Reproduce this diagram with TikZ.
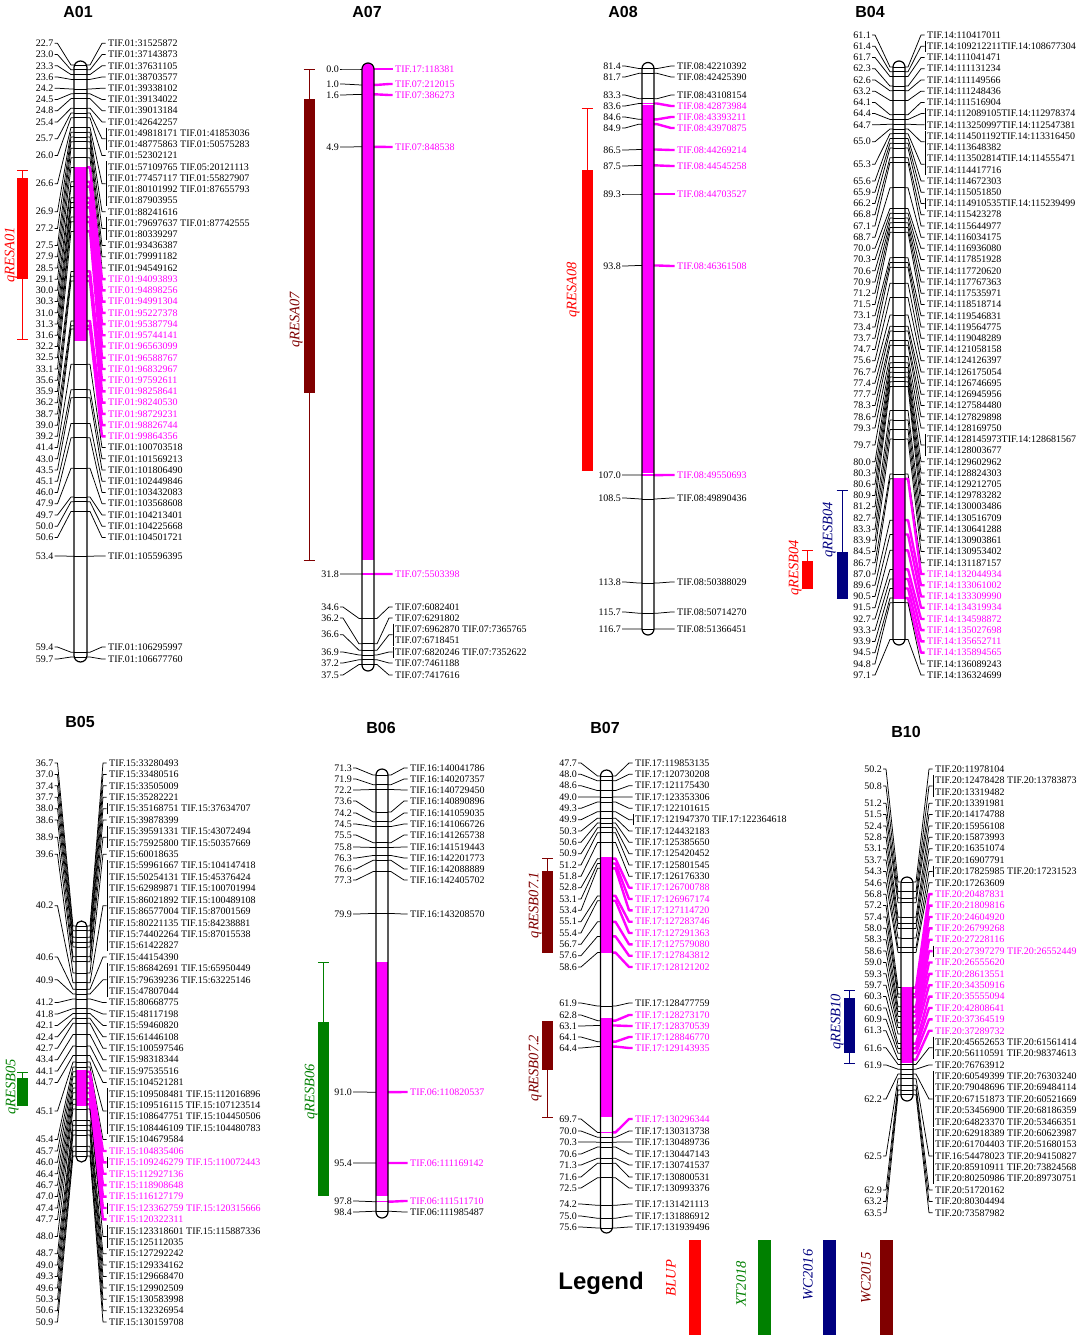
\documentclass[tikz,border=0pt]{standalone}
\usepackage{fontspec}
\setmainfont{Liberation Serif}
\newfontfamily\sansfam{Liberation Sans}
\definecolor{mag}{RGB}{255,0,255}
\definecolor{qred}{RGB}{255,0,0}
\definecolor{qgreen}{RGB}{0,128,0}
\definecolor{qnavy}{RGB}{0,0,128}
\definecolor{qmaroon}{RGB}{128,0,0}
\tikzset{
  conn-black/.style={draw=black,line width=0.75pt,line join=round},
  conn-mag/.style={draw=mag,line width=2.4pt,line join=round},
  mk-black/.style={draw=black,line width=0.75pt},
  mk-mag/.style={draw=mag,line width=1.5pt},
  lbl/.style={inner sep=0pt,font=\fontsize{10}{12}\selectfont},
  ttl/.style={font=\sansfam\bfseries\fontsize{16}{16}\selectfont},
  qlab/.style={font=\itshape\fontsize{14.5}{14.5}\selectfont,rotate=90,inner sep=0pt},
  barline/.style={line width=1.2pt},
}
\newcommand\setbar[4]{\def\Cbx{#1}\def\Cbw{#2}\def\Ctop{#3}\def\Cbot{#4}}
\newcommand\setmap[3]{\def\Cya{#1}\def\Ccma{#2}\def\Cys{#3}}
\newcommand\setlab[5]{\def\Clx{#1}\def\Crx{#2}\def\Cyo{#3}\def\Csp{#4}\def\Clsp{#5}}
\newcommand\chrom[3]{%
  \fill[white,rounded corners=\Cbw pt] (\Cbx-\Cbw,\Ctop) rectangle (\Cbx+\Cbw,\Cbot);
  \foreach \cm/\rr/\nn/\br/\col/\txt [count=\i] in {#3}{%
    \pgfmathsetmacro\ty{\Cya+\Cys*(\cm-\Ccma)}%
    \pgfmathsetmacro\fy{\Cyo+\Csp*\rr}%
    \pgfmathsetmacro\cy{\fy+(\nn-1)/2*\Clsp}%
    \pgfmathsetmacro\ly{\fy+(\nn-1)*\Clsp}%
    \pgfmathtruncatemacro\hasbr{max(\nn-1,\br)}%
    \draw[mk-\col] (\Cbx-\Cbw,\ty) -- (\Cbx+\Cbw,\ty);
    \node[lbl,anchor=east] (#1-n\i) at (\Clx,\cy) {\cm};
    \node[lbl,anchor=west,align=left,text=\col,font=\fontsize{10}{\Clsp}\selectfont] (#1-t\i) at (\Crx,\cy) {\txt};
    \draw[conn-black] ([xshift=1pt]#1-n\i.east) -- ++(3,0) -- (\Cbx-\Cbw-3,\ty) -- (\Cbx-\Cbw,\ty);
    \draw[conn-\col] (\Cbx+\Cbw,\ty) -- ++(3,0) -- ([xshift=-6pt]#1-t\i.west) -- ([xshift=-2.5pt]#1-t\i.west);
    \ifnum\hasbr>0 \draw[conn-black] (\Crx-2,\fy-5.5) -- (\Crx-2,\ly+5.5);\fi
  }
  \begin{scope}
    \clip[rounded corners=\Cbw pt] (\Cbx-\Cbw,\Ctop) rectangle (\Cbx+\Cbw,\Cbot);
    \foreach \ma/\mb in {#2} {\fill[mag] (\Cbx-\Cbw,\ma) rectangle (\Cbx+\Cbw,\mb);}
  \end{scope}
  \draw[barline,rounded corners=\Cbw pt] (\Cbx-\Cbw,\Ctop) rectangle (\Cbx+\Cbw,\Cbot);
}
\newcommand\qtl[9]{%
  \draw[#1,line width=1pt] (#2,#3) -- (#2,#4) (#2-5.5,#3) -- (#2+5.5,#3) (#2-5.5,#4) -- (#2+5.5,#4);
  \fill[#1] (#2-5.5,#5) rectangle (#2+5.5,#6);
  \node[qlab,text=#1] at (#7,#8) {#9};
}
\begin{document}
\begin{tikzpicture}[x=1pt,y=-1pt]
\useasboundingbox (0,0) rectangle (1080,1339);
\fill[white] (0,0) rectangle (1080,1339);
% titles
\node[ttl] (tA01) at (78,12) {A01};
\node[ttl] (tA07) at (367,12) {A07};
\node[ttl] (tA08) at (623,12) {A08};
\node[ttl] (tB04) at (870,12) {B04};
\node[ttl] (tB05) at (80,722) {B05};
\node[ttl] (tB06) at (381,728) {B06};
\node[ttl] (tB07) at (605,728) {B07};
\node[ttl] (tB10) at (906,732) {B10};

% ---------------- A01
\setbar{80.5}{6.5}{61}{662}\setmap{65}{22.7}{16}\setlab{53.5}{108}{43.3}{11.23}{11.23}
\chrom{A01}{168/341}{
22.7/0/1/0/black/TIF.01:31525872,
23.0/1/1/0/black/TIF.01:37143873,
23.3/2/1/0/black/TIF.01:37631105,
23.6/3/1/0/black/TIF.01:38703577,
24.2/4/1/0/black/TIF.01:39338102,
24.5/5/1/0/black/TIF.01:39134022,
24.8/6/1/0/black/TIF.01:39013184,
25.4/7/1/0/black/TIF.01:42642257,
25.7/8/2/0/black/{TIF.01:49818171 TIF.01:41853036\\TIF.01:48775863 TIF.01:50575283},
26.0/10/1/0/black/TIF.01:52302121,
26.6/11/4/0/black/{TIF.01:57109765 TIF.05:20121113\\TIF.01:77457117 TIF.01:55827907\\TIF.01:80101992 TIF.01:87655793\\TIF.01:87903955},
26.9/15/1/0/black/TIF.01:88241616,
27.2/16/2/0/black/{TIF.01:79697637 TIF.01:87742555\\TIF.01:80339297},
27.5/18/1/0/black/TIF.01:93436387,
27.9/19/1/0/black/TIF.01:79991182,
28.5/20/1/0/black/TIF.01:94549162,
29.1/21/1/0/mag/TIF.01:94093893,
30.0/22/1/0/mag/TIF.01:94898256,
30.3/23/1/0/mag/TIF.01:94991304,
31.0/24/1/0/mag/TIF.01:95227378,
31.3/25/1/0/mag/TIF.01:95387794,
31.6/26/1/0/mag/TIF.01:95744141,
32.2/27/1/0/mag/TIF.01:96563099,
32.5/28/1/0/mag/TIF.01:96588767,
33.1/29/1/0/mag/TIF.01:96832967,
35.6/30/1/0/mag/TIF.01:97592611,
35.9/31/1/0/mag/TIF.01:98258641,
36.2/32/1/0/mag/TIF.01:98240530,
38.7/33/1/0/mag/TIF.01:98729231,
39.0/34/1/0/mag/TIF.01:98826744,
39.2/35/1/0/mag/TIF.01:99864356,
41.4/36/1/0/black/TIF.01:100703518,
43.0/37/1/0/black/TIF.01:101569213,
43.5/38/1/0/black/TIF.01:101806490,
45.1/39/1/0/black/TIF.01:102449846,
46.0/40/1/0/black/TIF.01:103432083,
47.9/41/1/0/black/TIF.01:103568608,
49.7/42/1/0/black/TIF.01:104213401,
50.0/43/1/0/black/TIF.01:104225668,
50.6/44/1/0/black/TIF.01:104501721,
53.4/45.65/1/0/black/TIF.01:105596395,
59.4/53.76/1/0/black/TIF.01:106295997,
59.7/54.83/1/0/black/TIF.01:106677760}

% ---------------- A07
\setbar{368}{6}{63}{671}\setmap{69}{0}{15.88}\setlab{339}{395}{0}{1}{11.3}
\chrom{A07}{63/560}{
0.0/69/1/0/mag/TIF.17:118381,
1.0/84/1/0/mag/TIF.07:212015,
1.6/95/1/0/mag/TIF.07:386273,
4.9/147/1/0/mag/TIF.07:848538,
31.8/574/1/0/mag/TIF.07:5503398,
34.6/607/1/0/black/TIF.07:6082401,
36.2/618/1/0/black/TIF.07:6291802,
36.6/629/2/0/black/{TIF.07:6962870 TIF.07:7365765\\TIF.07:6718451},
36.9/652/1/1/black/TIF.07:6820246 TIF.07:7352622,
37.2/663/1/0/black/TIF.07:7461188,
37.5/675/1/0/black/TIF.07:7417616}

% ---------------- A08
\setbar{648}{6}{62.5}{635}\setmap{194}{89.3}{15.88}\setlab{621}{677}{0}{1}{11.3}
\chrom{A08}{105/473}{
81.4/66/1/0/black/TIF.08:42210392,
81.7/77/1/0/black/TIF.08:42425390,
83.3/95/1/0/black/TIF.08:43108154,
83.6/106/1/0/mag/TIF.08:42873984,
84.6/117/1/0/mag/TIF.08:43393211,
84.9/128/1/0/mag/TIF.08:43970875,
86.5/150/1/0/mag/TIF.08:44269214,
87.5/166/1/0/mag/TIF.08:44545258,
89.3/194/1/0/mag/TIF.08:44703527,
93.8/266/1/0/mag/TIF.08:46361508,
107.0/475/1/0/mag/TIF.08:49550693,
108.5/498/1/0/black/TIF.08:49890436,
113.8/582/1/0/black/TIF.08:50388029,
115.7/612/1/0/black/TIF.08:50714270,
116.7/629/1/0/black/TIF.08:51366451}

% ---------------- B04
\setbar{899}{6}{61}{645}\setmap{67}{61.1}{15.9}\setlab{871}{927}{35}{11.23}{11.23}
\chrom{B04}{478/598}{
61.1/0/1/0/black/TIF.14:110417011,
61.4/1/1/1/black/TIF.14:109212211TIF.14:108677304,
61.7/2/1/0/black/TIF.14:111041471,
62.3/3/1/0/black/TIF.14:111131234,
62.6/4/1/0/black/TIF.14:111149566,
63.2/5/1/0/black/TIF.14:111248436,
64.1/6/1/0/black/TIF.14:111516904,
64.4/7/1/1/black/TIF.14:112089105TIF.14:112978374,
64.7/8/1/1/black/TIF.14:113250997TIF.14:112547381,
65.0/9/2/0/black/{TIF.14:114501192TIF.14:113316450\\TIF.14:113648382},
65.3/11/2/0/black/{TIF.14:113502814TIF.14:114555471\\TIF.14:114417716},
65.6/13/1/0/black/TIF.14:114672303,
65.9/14/1/0/black/TIF.14:115051850,
66.2/15/1/1/black/TIF.14:114910535TIF.14:115239499,
66.8/16/1/0/black/TIF.14:115423278,
67.1/17/1/0/black/TIF.14:115644977,
68.7/18/1/0/black/TIF.14:116034175,
70.0/19/1/0/black/TIF.14:116936080,
70.3/20/1/0/black/TIF.14:117851928,
70.6/21/1/0/black/TIF.14:117720620,
70.9/22/1/0/black/TIF.14:117767363,
71.2/23/1/0/black/TIF.14:117535971,
71.5/24/1/0/black/TIF.14:118518714,
73.1/25/1/0/black/TIF.14:119546831,
73.4/26/1/0/black/TIF.14:119564775,
73.7/27/1/0/black/TIF.14:119048289,
74.7/28/1/0/black/TIF.14:121058158,
75.6/29/1/0/black/TIF.14:124126397,
76.7/30/1/0/black/TIF.14:126175054,
77.4/31/1/0/black/TIF.14:126746695,
77.7/32/1/0/black/TIF.14:126945956,
78.3/33/1/0/black/TIF.14:127584480,
78.6/34/1/0/black/TIF.14:127829898,
79.3/35/1/0/black/TIF.14:128169750,
79.7/36/2/0/black/{TIF.14:128145973TIF.14:128681567\\TIF.14:128003677},
80.0/38/1/0/black/TIF.14:129602962,
80.3/39/1/0/black/TIF.14:128824303,
80.6/40/1/0/black/TIF.14:129212705,
80.9/41/1/0/black/TIF.14:129783282,
81.2/42/1/0/black/TIF.14:130003486,
82.7/43/1/0/black/TIF.14:130516709,
83.3/44/1/0/black/TIF.14:130641288,
83.9/45/1/0/black/TIF.14:130903861,
84.5/46/1/0/black/TIF.14:130953402,
86.7/47/1/0/black/TIF.14:131187157,
87.0/48/1/0/mag/TIF.14:132044934,
89.6/49/1/0/mag/TIF.14:133061002,
90.5/50/1/0/mag/TIF.14:133309990,
91.5/51/1/0/mag/TIF.14:134319934,
92.7/52/1/0/mag/TIF.14:134598872,
93.3/53/1/0/mag/TIF.14:135027698,
93.9/54/1/0/mag/TIF.14:135652711,
94.5/55/1/0/mag/TIF.14:135894565,
94.8/56/1/0/black/TIF.14:136089243,
97.1/57/1/0/black/TIF.14:136324699}

% ---------------- B05
\setbar{81.5}{5.5}{921}{1162}\setmap{926}{36.7}{16.2}\setlab{53.5}{109}{763}{11.41}{11.41}
\chrom{B05}{1070/1106}{
36.7/0/1/0/black/TIF.15:33280493,
37.0/1/1/0/black/TIF.15:33480516,
37.4/2/1/0/black/TIF.15:33505009,
37.7/3/1/0/black/TIF.15:35282221,
38.0/4/1/1/black/TIF.15:35168751 TIF.15:37634707,
38.6/5/1/0/black/TIF.15:39878399,
38.9/6/2/0/black/{TIF.15:39591331 TIF.15:43072494\\TIF.15:75925800 TIF.15:50357669},
39.6/8/1/0/black/TIF.15:60018635,
40.2/9/8/0/black/{TIF.15:59961667 TIF.15:104147418\\TIF.15:50254131 TIF.15:45376424\\TIF.15:62989871 TIF.15:100701994\\TIF.15:86021892 TIF.15:100489108\\TIF.15:86577004 TIF.15:87001569\\TIF.15:80221135 TIF.15:84238881\\TIF.15:74402264 TIF.15:87015538\\TIF.15:61422827},
40.6/17/1/0/black/TIF.15:44154390,
40.9/18/3/0/black/{TIF.15:86842691 TIF.15:65950449\\TIF.15:79639236 TIF.15:63225146\\TIF.15:47807044},
41.2/21/1/0/black/TIF.15:80668775,
41.8/22/1/0/black/TIF.15:48117198,
42.1/23/1/0/black/TIF.15:59460820,
42.4/24/1/0/black/TIF.15:61446108,
42.7/25/1/0/black/TIF.15:100597546,
43.4/26/1/0/black/TIF.15:98318344,
44.1/27/1/0/black/TIF.15:97535516,
44.7/28/1/0/black/TIF.15:104521281,
45.1/29/4/0/black/{TIF.15:109508481 TIF.15:112016896\\TIF.15:109516115 TIF.15:107123514\\TIF.15:108647751 TIF.15:104450506\\TIF.15:108446109 TIF.15:104480783},
45.4/33/1/0/black/TIF.15:104679584,
45.7/34/1/0/mag/TIF.15:104835406,
46.0/35/1/1/mag/TIF.15:109246279 TIF.15:110072443,
46.4/36/1/0/mag/TIF.15:112927136,
46.7/37/1/0/mag/TIF.15:118908648,
47.0/38/1/0/mag/TIF.15:116127179,
47.4/39/1/1/mag/TIF.15:123362759 TIF.15:120315666,
47.7/40/1/0/mag/TIF.15:120322311,
48.0/41/2/0/black/{TIF.15:123318601 TIF.15:115887336\\TIF.15:125112035},
48.7/43/1/0/black/TIF.15:127292242,
49.0/44/1/0/black/TIF.15:129334162,
49.3/45/1/0/black/TIF.15:129668470,
49.6/46/1/0/black/TIF.15:129902509,
50.3/47/1/0/black/TIF.15:130583998,
50.6/48/1/0/black/TIF.15:132326954,
50.9/49/1/0/black/TIF.15:130159708}

% ---------------- B06
\setbar{382}{6}{769}{1218}\setmap{775}{71.3}{16.1}\setlab{352}{410}{0}{1}{11.3}
\chrom{B06}{962/1196}{
71.3/768/1/0/black/TIF.16:140041786,
71.9/779/1/0/black/TIF.16:140207357,
72.2/790/1/0/black/TIF.16:140729450,
73.6/801/1/0/black/TIF.16:140890896,
74.2/813/1/0/black/TIF.16:141059035,
74.5/824/1/0/black/TIF.16:141066726,
75.5/835/1/0/black/TIF.16:141265738,
75.8/847/1/0/black/TIF.16:141519443,
76.3/858/1/0/black/TIF.16:142201773,
76.6/869/1/0/black/TIF.16:142088889,
77.3/880/1/0/black/TIF.16:142405702,
79.9/914/1/0/black/TIF.16:143208570,
91.0/1092/1/0/mag/TIF.06:110820537,
95.4/1163/1/0/mag/TIF.06:111169142,
97.8/1201/1/0/mag/TIF.06:111511710,
98.4/1212/1/0/black/TIF.06:111985487}

% ---------------- B07
\setbar{606.5}{6}{770}{1233}\setmap{776}{47.7}{16.2}\setlab{577}{635}{0}{1}{11.3}
\chrom{B07}{857/953,1018/1117}{
47.7/763/1/0/black/TIF.17:119853135,
48.0/774.3/1/0/black/TIF.17:120730208,
48.6/785.7/1/0/black/TIF.17:121175430,
49.0/797/1/0/black/TIF.17:123353306,
49.3/808.3/1/0/black/TIF.17:122101615,
49.9/819.7/1/1/black/TIF.17:121947370 TIF.17:122364618,
50.3/831/1/0/black/TIF.17:124432183,
50.6/842.3/1/0/black/TIF.17:125385650,
50.9/853.7/1/0/black/TIF.17:125420452,
51.2/865/1/0/black/TIF.17:125801545,
51.8/876.3/1/0/black/TIF.17:126176330,
52.8/887.7/1/0/mag/TIF.17:126700788,
53.1/899/1/0/mag/TIF.17:126967174,
53.4/910.3/1/0/mag/TIF.17:127114720,
55.1/921.7/1/0/mag/TIF.17:127283746,
55.4/933/1/0/mag/TIF.17:127291363,
56.7/944.3/1/0/mag/TIF.17:127579080,
57.6/955.7/1/0/mag/TIF.17:127843812,
58.6/967/1/0/mag/TIF.17:128121202,
61.9/1003/1/0/black/TIF.17:128477759,
62.8/1015/1/0/mag/TIF.17:128273170,
63.1/1026/1/0/mag/TIF.17:128370539,
64.1/1037/1/0/mag/TIF.17:128846770,
64.4/1048/1/0/mag/TIF.17:129143935,
69.7/1119/1/0/mag/TIF.17:130296344,
70.0/1131/1/0/black/TIF.17:130313738,
70.3/1142/1/0/black/TIF.17:130489736,
70.6/1154/1/0/black/TIF.17:130447143,
71.3/1165/1/0/black/TIF.17:130741537,
71.6/1177/1/0/black/TIF.17:130800531,
72.5/1188/1/0/black/TIF.17:130993376,
74.2/1204/1/0/black/TIF.17:131421113,
75.0/1216/1/0/black/TIF.17:131886912,
75.6/1227/1/0/black/TIF.17:131939496}

% ---------------- B10
\setbar{907}{6}{877}{1101}\setmap{882}{50.2}{16}\setlab{882}{935}{769}{11.38}{11.38}
\chrom{B10}{988/1063}{
50.2/0/1/0/black/TIF.20:11978104,
50.8/1/2/0/black/{TIF.20:12478428 TIF.20:13783873\\TIF.20:13319482},
51.2/3/1/0/black/TIF.20:13391981,
51.5/4/1/0/black/TIF.20:14174788,
52.4/5/1/0/black/TIF.20:15956108,
52.8/6/1/0/black/TIF.20:15873993,
53.1/7/1/0/black/TIF.20:16351074,
53.7/8/1/0/black/TIF.20:16907791,
54.3/9/1/1/black/TIF.20:17825985 TIF.20:17231523,
54.6/10/1/0/black/TIF.20:17263609,
56.8/11/1/0/mag/TIF.20:20487831,
57.2/12/1/0/mag/TIF.20:21809816,
57.4/13/1/0/mag/TIF.20:24604920,
58.0/14/1/0/mag/TIF.20:26799268,
58.3/15/1/0/mag/TIF.20:27228116,
58.6/16/1/1/mag/TIF.20:27397279 TIF.20:26552449,
59.0/17/1/0/mag/TIF.20:26555620,
59.3/18/1/0/mag/TIF.20:28613551,
59.7/19/1/0/mag/TIF.20:34350916,
60.3/20/1/0/mag/TIF.20:35555094,
60.6/21/1/0/mag/TIF.20:42808641,
60.9/22/1/0/mag/TIF.20:37364519,
61.3/23/1/0/mag/TIF.20:37289732,
61.6/24/2/0/black/{TIF.20:45652653 TIF.20:61561414\\TIF.20:56110591 TIF.20:98374613},
61.9/26/1/0/black/TIF.20:76763912,
62.2/27/5/0/black/{TIF.20:60549399 TIF.20:76303240\\TIF.20:79048696 TIF.20:69484114\\TIF.20:67151873 TIF.20:60521669\\TIF.20:53456900 TIF.20:68186359\\TIF.20:64823370 TIF.20:53466351},
62.5/32/5/0/black/{TIF.20:62918389 TIF.20:60623987\\TIF.20:61704403 TIF.20:51680153\\TIF.16:54478023 TIF.20:94150827\\TIF.20:85910911 TIF.20:73824568\\TIF.20:80250986 TIF.20:89730751},
62.9/37/1/0/black/TIF.20:51720162,
63.2/38/1/0/black/TIF.20:80304494,
63.5/39/1/0/black/TIF.20:73587982}

% ---------------- QTL intervals
\qtl{qred}{22.5}{170}{339}{178}{279}{11}{255}{qRESA01}
\qtl{qmaroon}{309}{69}{560}{99}{393}{296}{320}{qRESA07}
\qtl{qred}{587}{108}{470}{170}{470}{573}{290}{qRESA08}
\qtl{qred}{807}{550}{588}{561}{588}{795}{568}{qRESB04}
\qtl{qnavy}{842}{490}{598}{552}{598}{829}{530}{qRESB04}
\qtl{qgreen}{22.5}{1072}{1105}{1078}{1105}{12}{1087}{qRESB05}
\qtl{qgreen}{323.5}{962}{1195}{1022}{1195}{311}{1092}{qRESB06}
\qtl{qmaroon}{547.5}{858}{952}{871}{952}{535}{905}{qRESB07.1}
\qtl{qmaroon}{547.5}{1021}{1117}{1021}{1070}{535}{1068}{qRESB07.2}
\qtl{qnavy}{849.5}{990}{1063}{998}{1053}{837}{1022}{qRESB10}

% ---------------- legend
\node[font=\sansfam\bfseries\fontsize{24}{24}\selectfont] (legend) at (601,1283) {Legend};
\fill[qred] (689,1240) rectangle (701,1335);
\node[qlab,text=qred] (lgBLUP) at (671,1278) {BLUP};
\fill[qgreen] (758,1240) rectangle (771,1335);
\node[qlab,text=qgreen] (lgXT) at (741,1284) {XT2018};
\fill[qnavy] (823,1240) rectangle (836,1335);
\node[qlab,text=qnavy] (lgWC16) at (808,1275) {WC2016};
\fill[qmaroon] (880,1240) rectangle (893,1335);
\node[qlab,text=qmaroon] (lgWC15) at (866,1278) {WC2015};
\end{tikzpicture}
\end{document}
